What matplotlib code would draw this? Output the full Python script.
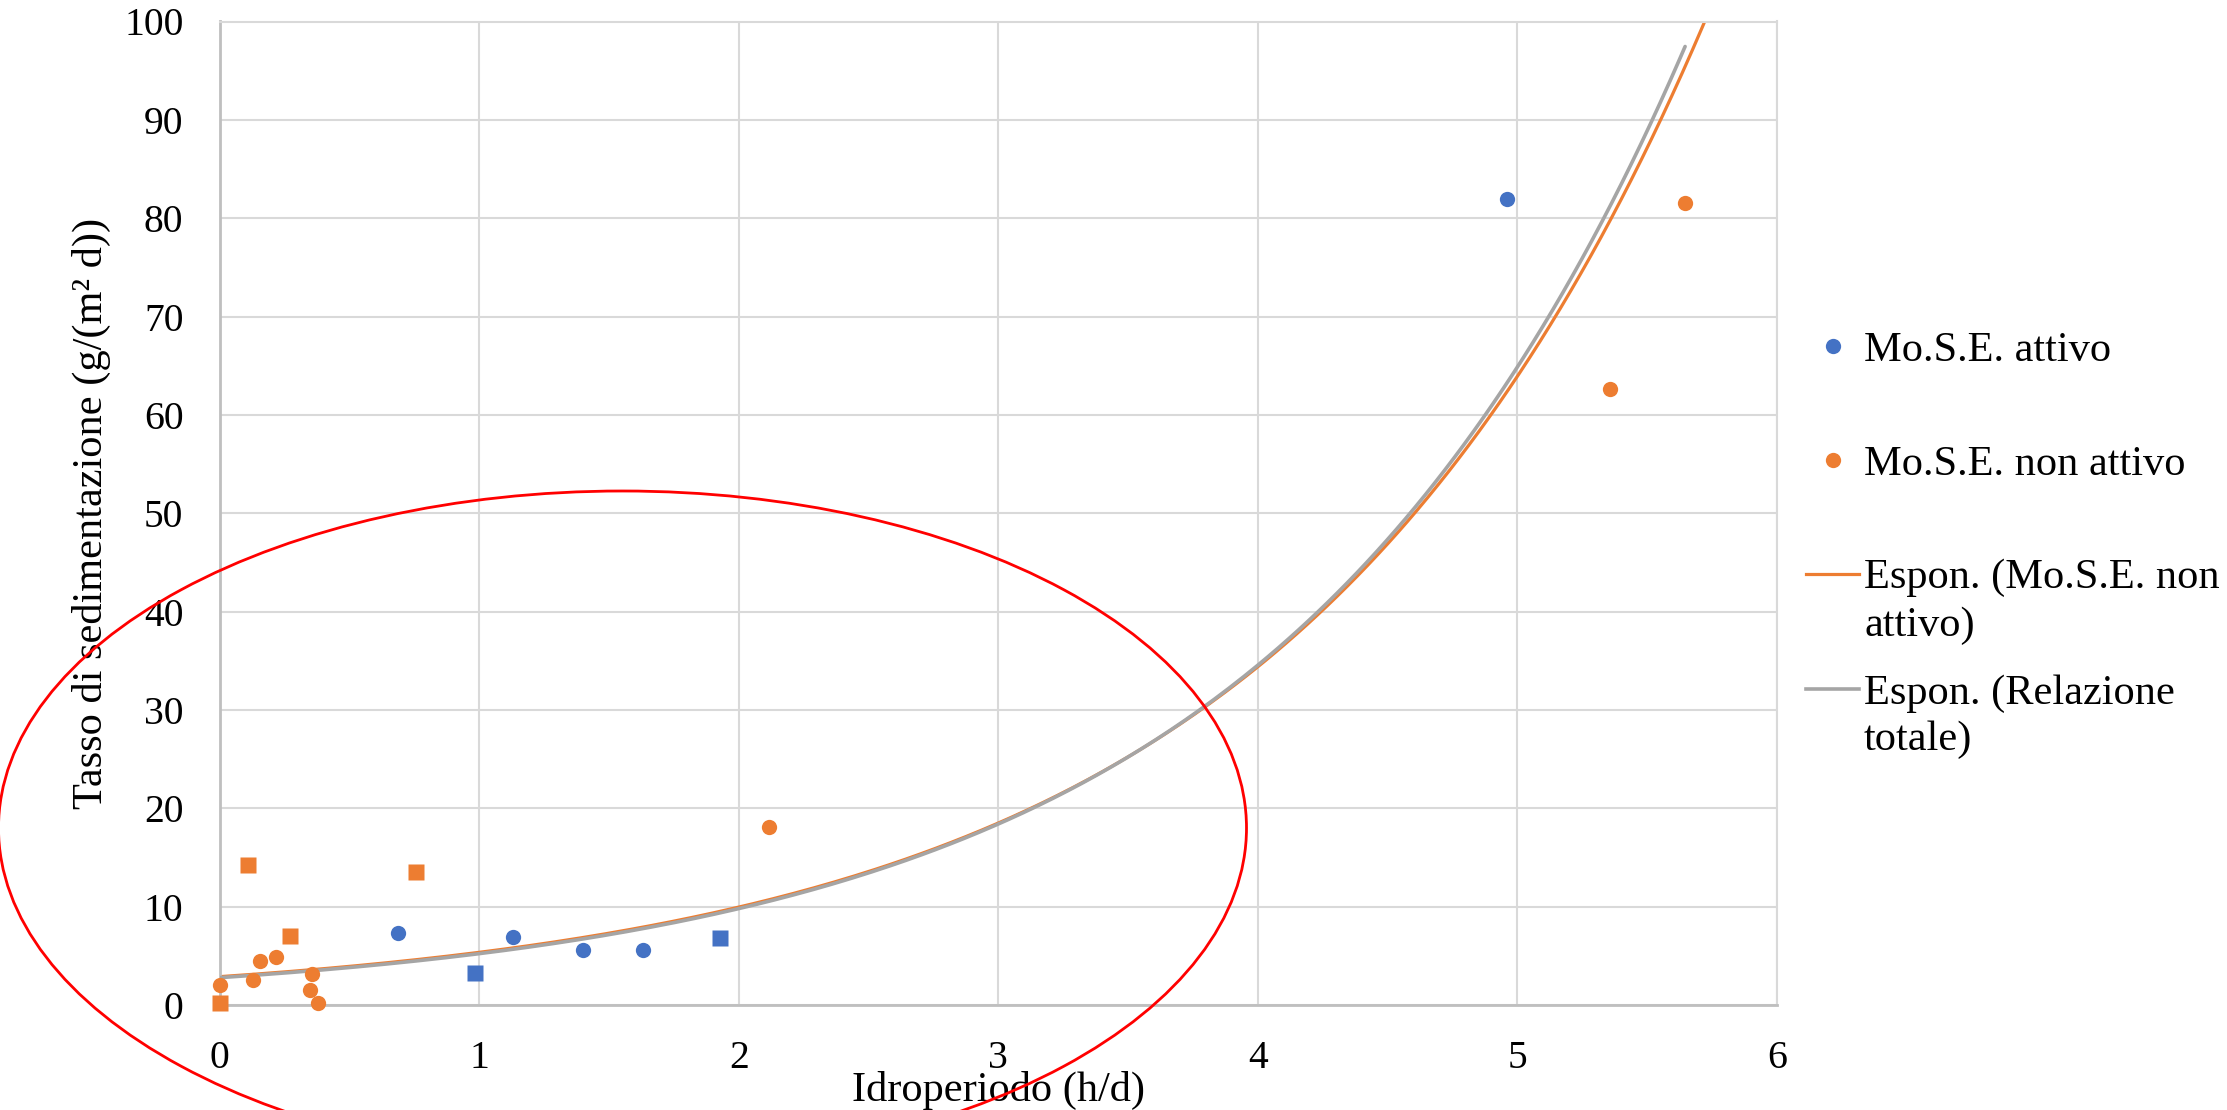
import numpy as np
import matplotlib
matplotlib.use("Agg")
import matplotlib.pyplot as plt
from matplotlib.patches import Ellipse
from matplotlib.lines import Line2D

plt.rcParams['font.family'] = ['Liberation Serif', 'DejaVu Serif']

# Mo.S.E. attivo (circles and squares)
attivo_x = [0.687, 1.129, 1.399, 1.630, 4.960]
attivo_y = [7.3, 6.9, 5.6, 5.6, 82.0]
attivo_sq_x = [0.984, 1.927]
attivo_sq_y = [3.25, 6.8]

# Mo.S.E. non attivo (circles and squares)
non_attivo_x = [0.002, 0.128, 0.156, 0.218, 0.357, 0.349, 0.381, 2.117, 5.357, 5.646]
non_attivo_y = [2.03, 2.54, 4.5, 4.9, 3.2, 1.52, 0.17, 18.06, 62.6, 81.5]
non_attivo_sq_x = [0.002, 0.108, 0.271, 0.758]
non_attivo_sq_y = [0.17, 14.2, 7.0, 13.5]

# Exponential trendlines y = a * exp(b * x)
trend_non_attivo = (2.88, 0.620)
trend_totale = (2.78, 0.630)
trend_non_attivo_xmax = 5.85
trend_totale_xmax = 5.646

x_ticks = [0, 1, 2, 3, 4, 5, 6]
y_ticks = [0, 10, 20, 30, 40, 50, 60, 70, 80, 90, 100]

legend_labels = ["Mo.S.E. attivo", "Mo.S.E. non attivo",
                 "Espon. (Mo.S.E. non\nattivo)", "Espon. (Relazione\ntotale)"]

BLUE = "#4472C4"
ORANGE = "#ED7D31"
GRAY = "#A5A5A5"
GRID = "#D9D9D9"
AXIS = "#BFBFBF"

W, H = 2227, 1110
fig = plt.figure(figsize=(W / 100, H / 100), dpi=100)
ax = fig.add_axes([219.5 / W, 1 - 1005 / H, (1777 - 219.5) / W, (1005 - 21.5) / H])

ax.set_xlim(0, 6)
ax.set_ylim(0, 100)
ax.set_xticks(x_ticks)
ax.set_yticks(y_ticks)
ax.tick_params(length=0, labelsize=28.5)
ax.tick_params(axis='x', pad=25)
ax.tick_params(axis='y', pad=26)
ax.grid(True, color=GRID, linewidth=1.5, zorder=0)
ax.set_axisbelow(True)
for side in ("top", "right"):
    ax.spines[side].set_color(GRID)
    ax.spines[side].set_linewidth(1.5)
for side in ("left", "bottom"):
    ax.spines[side].set_color(AXIS)
    ax.spines[side].set_linewidth(2.0)

# trendlines
LW_ORANGE, LW_GRAY = 2.3, 2.6
a, b = trend_non_attivo
xs = np.linspace(0, trend_non_attivo_xmax, 300)
ax.plot(xs, a * np.exp(b * xs), color=ORANGE, lw=LW_ORANGE, zorder=2)
a, b = trend_totale
xs = np.linspace(0, trend_totale_xmax, 300)
ax.plot(xs, a * np.exp(b * xs), color=GRAY, lw=LW_GRAY, zorder=3, solid_capstyle='round')

# points
ms = 11
ax.plot(attivo_x, attivo_y, 'o', color=BLUE, ms=ms, mec='none', zorder=4, clip_on=False)
ax.plot(attivo_sq_x, attivo_sq_y, 's', color=BLUE, ms=ms, mec='none', zorder=4, clip_on=False)
ax.plot(non_attivo_x, non_attivo_y, 'o', color=ORANGE, ms=ms, mec='none', zorder=4, clip_on=False)
ax.plot(non_attivo_sq_x, non_attivo_sq_y, 's', color=ORANGE, ms=ms, mec='none', zorder=4, clip_on=False)

# axis titles
fig.text(998 / W, 1 - 1090 / H, "Idroperiodo (h/d)", ha='center', va='center', fontsize=30.5)
fig.text(91 / W, 1 - 513 / H, "Tasso di sedimentazione (g/(m² d))", ha='center', va='center',
         rotation=90, fontsize=30.5)

# legend
def fx(px):
    return px / W

def fy(py):
    return 1 - py / H

fig.add_artist(Line2D([fx(1832.5)], [fy(345.7)], marker='o', color=BLUE, ms=ms, mec='none', ls='none'))
fig.add_artist(Line2D([fx(1832.5)], [fy(460)], marker='o', color=ORANGE, ms=ms, mec='none', ls='none'))
fig.add_artist(Line2D([fx(1806), fx(1859)], [fy(573.7), fy(573.7)], color=ORANGE, lw=LW_ORANGE))
fig.add_artist(Line2D([fx(1806), fx(1859)], [fy(689), fy(689)], color=GRAY, lw=LW_GRAY))

baselines = [[361.4], [474.6], [588, 636], [703.5, 750]]
for label, bl in zip(legend_labels, baselines):
    for line, py in zip(label.split("\n"), bl):
        fig.text(fx(1864), fy(py), line, ha='left', va='baseline', fontsize=30.5)

# highlight of the low-idroperiod cluster
ell = Ellipse((622.5 / 100, (H - 828) / 100), 1248 / 100, 674 / 100,
              transform=fig.dpi_scale_trans, fill=False, edgecolor="#FF0000",
              lw=2.0, zorder=10, clip_on=False)
fig.add_artist(ell)

fig.savefig("out.png", dpi=100)
